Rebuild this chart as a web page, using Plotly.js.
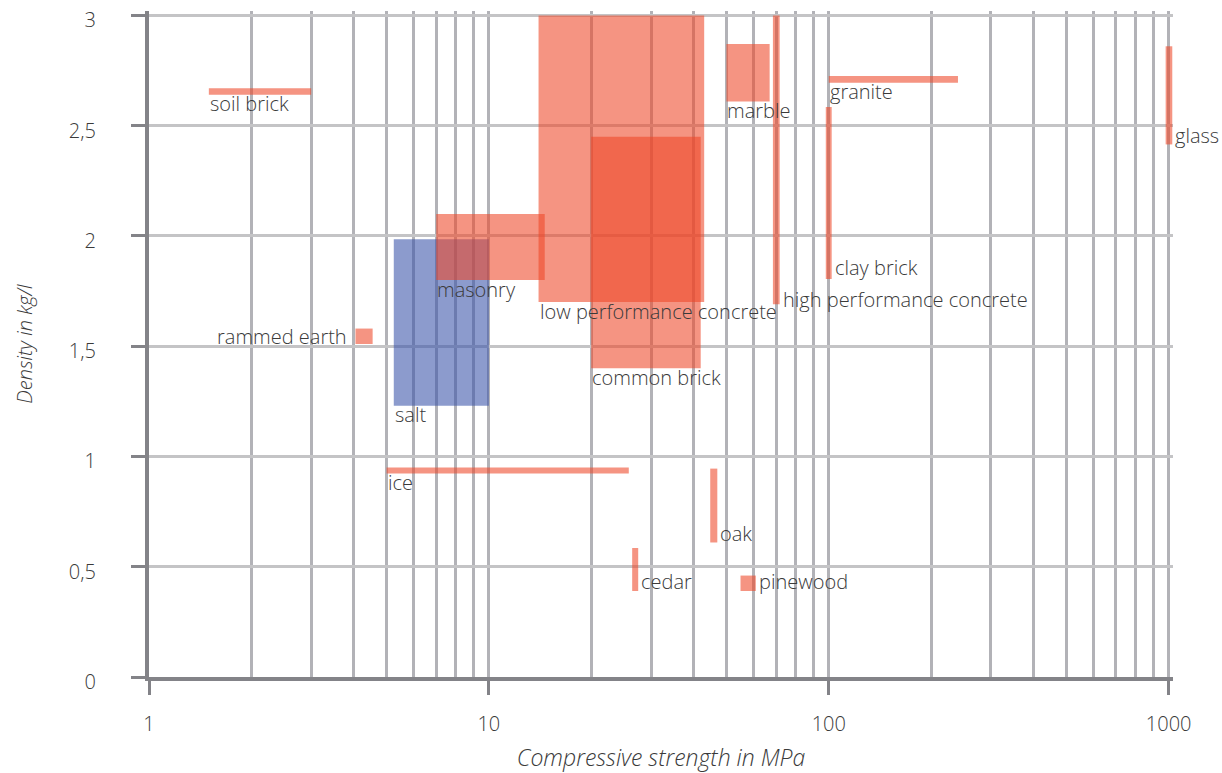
<!DOCTYPE html>
<html>
<head>
<meta charset="utf-8">
<script src="https://cdn.plot.ly/plotly-3.0.1.min.js"></script>
<style>html,body{margin:0;padding:0;background:#fff;}#chart{width:1222px;height:773px;}</style>
</head>
<body>
<div id="chart"></div>
<script>
// Data (compressive strength in MPa, density in kg/l)
const materials = ['salt', 'soil brick', 'masonry', 'low performance concrete', 'common brick', 'marble',
  'high performance concrete', 'clay brick', 'granite', 'glass', 'rammed earth', 'ice', 'oak', 'cedar', 'pinewood'];
const strengthMin = [5.25, 1.5, 7, 14, 20, 50, 68.5, 98, 100, 980, 4.05, 5, 44.8, 26.4, 55];
const strengthMax = [10, 3, 14.6, 43, 42, 67, 71.7, 102, 240, 1025, 4.55, 25.8, 47, 27.5, 61];
const densityMin = [1.23, 2.64, 1.8, 1.7, 1.4, 2.61, 1.69, 1.805, 2.695, 2.415, 1.51, 0.923, 0.61, 0.39, 0.39];
const densityMax = [1.985, 2.67, 2.1, 3.0, 2.45, 2.87, 3.0, 2.585, 2.725, 2.86, 1.58, 0.95, 0.945, 0.585, 0.46];
const group = ['salt', 'building', 'building', 'building', 'building', 'building', 'building', 'building',
  'building', 'building', 'building', 'building', 'building', 'building', 'building'];

// label placement (style only)
const labelSide = ['below', 'below', 'below', 'below', 'below', 'below', 'right', 'right', 'below', 'right',
  'left', 'below', 'right', 'right', 'right'];
const labelNudge = [0, 0, 0, 0, 0, 0, -4, 2, 0, 0, 0, 0, 0, 0, 0];

const yTickVals = [0, 0.5, 1, 1.5, 2, 2.5, 3];
const yTickText = ['0', '0,5', '1', '1,5', '2', '2,5', '3'];
const xTickVals = [1, 10, 100, 1000];
const xTickText = ['1', '10', '100', '1000'];
const xMinorVals = [2, 3, 4, 5, 6, 7, 8, 9, 20, 30, 40, 50, 60, 70, 80, 90, 200, 300, 400, 500, 600, 700, 800, 900];

const colors = { salt: 'rgba(57,83,169,0.58)', building: 'rgba(238,70,40,0.58)' };
const FONT = 'Open Sans, Noto Sans, sans-serif';
const TXT = '#3a3a3a';

const traces = materials.map((m, i) => ({
  type: 'scatter', mode: 'lines', name: m,
  x: [strengthMin[i], strengthMax[i], strengthMax[i], strengthMin[i], strengthMin[i]],
  y: [densityMin[i], densityMin[i], densityMax[i], densityMax[i], densityMin[i]],
  fill: 'toself', fillcolor: colors[group[i]], line: { width: 0 },
  hoverinfo: 'name', showlegend: false
}));

const annotations = materials.map((m, i) => {
  const a = { text: m, showarrow: false, xref: 'x', yref: 'y',
    font: { family: FONT, size: 20, color: TXT, weight: 300 } };
  if (labelSide[i] === 'below') {
    Object.assign(a, { x: Math.log10(strengthMin[i]), y: densityMin[i], xanchor: 'left', yanchor: 'middle', xshift: -1, yshift: -9 + labelNudge[i] });
  } else if (labelSide[i] === 'right') {
    Object.assign(a, { x: Math.log10(strengthMax[i]), y: densityMin[i], xanchor: 'left', yanchor: 'middle', xshift: 1, yshift: 9 + labelNudge[i] });
  } else {
    Object.assign(a, { x: Math.log10(strengthMin[i]), y: (densityMin[i] + densityMax[i]) / 2, xanchor: 'right', yanchor: 'middle', xshift: -6, yshift: labelNudge[i] });
  }
  return a;
});

const layout = {
  width: 1222, height: 773,
  margin: { l: 149, r: 49, t: 11, b: 96 },
  paper_bgcolor: '#ffffff', plot_bgcolor: '#ffffff',
  font: { family: FONT, color: TXT, size: 20, weight: 300 },
  showlegend: false,
  xaxis: {
    type: 'log', range: [0, Math.log10(1030)],
    tickmode: 'array', tickvals: xTickVals, ticktext: xTickText,
    showgrid: true, gridcolor: '#b2b2b7', gridwidth: 3,
    minor: { tickmode: 'array', tickvals: xMinorVals, showgrid: true, gridcolor: '#b2b2b7', gridwidth: 3, ticks: '' },
    showline: true, linecolor: '#838388', linewidth: 4,
    ticks: 'outside', ticklen: 14, tickwidth: 3, tickcolor: '#838388',
    ticklabelstandoff: 12,
    tickfont: { family: FONT, size: 20, color: TXT, weight: 300 },
    zeroline: false,
    title: { text: 'Compressive strength in MPa', standoff: 20,
      font: { family: FONT, size: 23, color: TXT, style: 'italic', weight: 300 } }
  },
  yaxis: {
    range: [0, 3.02],
    tickmode: 'array', tickvals: yTickVals, ticktext: yTickText,
    showgrid: true, gridcolor: '#c4c4c6', gridwidth: 3,
    showline: true, linecolor: '#838388', linewidth: 4,
    ticks: 'outside', ticklen: 14, tickwidth: 3, tickcolor: '#838388',
    ticklabelstandoff: 31, ticklabelshift: 5,
    tickfont: { family: FONT, size: 20, color: TXT, weight: 300 },
    zeroline: false,
    title: { text: 'Density in kg/l', standoff: 32,
      font: { family: FONT, size: 20, color: TXT, style: 'italic', weight: 300 } }
  },
  annotations: annotations
};

Plotly.newPlot('chart', traces, layout, { displayModeBar: false, staticPlot: true });
</script>
</body>
</html>
